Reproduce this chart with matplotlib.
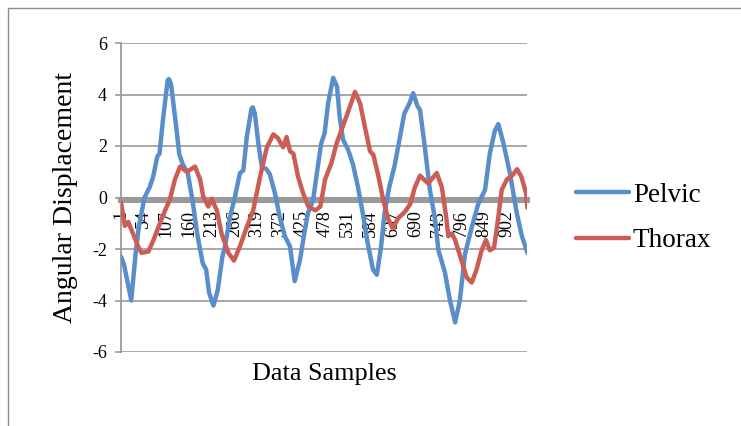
import matplotlib
matplotlib.use("Agg")
import matplotlib.pyplot as plt
from matplotlib.patches import Rectangle

# ---- data ----
pelvic_x = [1, 8, 25, 35, 43, 56, 68, 76, 86, 91, 99, 110, 113, 118, 130, 137, 145, 157, 168,
            180, 192, 200, 207, 217, 227, 238, 244, 256, 267, 279, 287, 295, 306, 309, 314, 322,
            330, 341, 349, 361, 372, 384, 396, 407, 419, 431, 438, 450, 461, 469, 477, 485, 497,
            506, 512, 520, 532, 543, 555, 566, 578, 590, 599, 609, 617, 628, 640, 652, 663, 675,
            684, 694, 700, 712, 723, 735, 743, 758, 770, 782, 793, 805, 821, 836, 852, 863, 875,
            883, 895, 910, 926, 938, 951]
pelvic_y = [-2.3, -2.6, -4.0, -2.2, -1.1, 0.0, 0.4, 0.8, 1.6, 1.7, 3.0, 4.55, 4.6, 4.4, 2.75, 1.7,
            1.3, 0.95, -0.1, -1.5, -2.55, -2.8, -3.7, -4.2, -3.6, -2.3, -1.9, -0.75, 0.0, 0.95,
            1.05, 2.35, 3.45, 3.5, 3.25, 2.1, 1.2, 1.1, 0.9, 0.15, -0.75, -1.5, -1.9, -3.25,
            -2.45, -1.25, -0.6, -0.1, 1.2, 2.1, 2.5, 3.65, 4.65, 4.3, 3.15, 2.25, 1.85, 1.3, 0.4,
            -0.6, -1.8, -2.8, -3.0, -1.9, -0.6, 0.4, 1.2, 2.25, 3.25, 3.65, 4.05, 3.55, 3.4, 1.85,
            0.3, -0.85, -2.05, -2.9, -4.0, -4.85, -4.0, -2.2, -1.15, -0.25, 0.3, 1.7, 2.6, 2.85,
            2.1, 0.95, -0.6, -1.5, -2.15]

thorax_x = [1, 10, 18, 29, 41, 49, 65, 77, 92, 104, 115, 127, 139, 155, 174, 186, 193, 205, 213,
            225, 236, 252, 265, 279, 295, 310, 326, 342, 357, 368, 380, 388, 396, 404, 415, 427,
            439, 455, 467, 478, 493, 505, 528, 548, 560, 571, 583, 591, 603, 614, 626, 636, 649,
            665, 677, 688, 700, 712, 719, 739, 751, 761, 766, 774, 782, 797, 809, 821, 832, 844,
            854, 863, 873, 883, 891, 903, 915, 927, 937, 948, 951]
thorax_y = [-0.2, -1.1, -0.95, -1.4, -1.9, -2.15, -2.1, -1.65, -1.0, -0.5, -0.1, 0.7, 1.2, 1.0,
            1.2, 0.7, 0.05, -0.35, -0.05, -0.5, -1.4, -2.15, -2.45, -1.9, -1.15, -0.5, 0.8, 1.95,
            2.45, 2.3, 1.95, 2.35, 1.8, 1.7, 0.8, 0.15, -0.35, -0.5, -0.35, 0.7, 1.35, 2.1, 3.15,
            4.1, 3.65, 2.75, 1.8, 1.65, 0.8, -0.1, -0.85, -1.2, -0.8, -0.55, -0.25, 0.4, 0.85,
            0.65, 0.55, 0.95, 0.4, -0.75, -1.5, -1.4, -1.65, -2.45, -3.1, -3.3, -2.8, -2.05,
            -1.65, -2.05, -1.95, -0.75, 0.3, 0.7, 0.85, 1.1, 0.8, 0.15, -0.4]

x_ticks = [1, 54, 107, 160, 213, 266, 319, 372, 425, 478, 531, 584, 637, 690, 743, 796, 849, 902]
y_ticks = [-6, -4, -2, 0, 2, 4, 6]

n_samples = 950

plt.rcParams['font.family'] = ['Liberation Serif', 'DejaVu Serif']

W, H = 741, 426
fig = plt.figure(figsize=(W / 100, H / 100), dpi=100)

# outer chart border (top and left visible)
fig.patches.append(Rectangle((7.5 / W, -0.1), 1.2, (H - 8) / H + 0.1,
                             transform=fig.transFigure, fill=False,
                             edgecolor='#8c8c8c', linewidth=1.0))

ax = fig.add_axes([121 / W, 1 - 352 / H, 406 / W, 309 / H])

# spine position first (it resets tick objects)
for s in ['top', 'right']:
    ax.spines[s].set_visible(False)
ax.spines['bottom'].set_position(('data', -0.11))
ax.spines['left'].set_color('#9a9a9a')
ax.spines['left'].set_linewidth(1.3)
ax.spines['bottom'].set_color('#9a9a9a')
ax.spines['bottom'].set_linewidth(4.4)
ax.spines['bottom'].set_zorder(2)

blue = '#5A8ECA'
red = '#CC5D55'
ax.plot(pelvic_x, pelvic_y, color=blue, lw=3.2, solid_joinstyle='round',
        solid_capstyle='round', label='Pelvic', zorder=3)
ax.plot(thorax_x, thorax_y, color=red, lw=3.2, solid_joinstyle='round',
        solid_capstyle='round', label='Thorax', zorder=3)

ax.set_xlim(1, n_samples)
ax.set_ylim(-6, 6)
ax.set_yticks(y_ticks)
ax.set_yticklabels([str(t) for t in y_ticks])
ax.set_xticks(x_ticks)
ax.set_xticklabels([str(t) for t in x_ticks])

ax.grid(axis='y', color='#9a9a9a', linewidth=1.2, zorder=0)
ax.set_axisbelow(True)

ax.tick_params(axis='y', direction='out', length=4, width=1.2, color='#9a9a9a',
               labelsize=13, pad=6)
ax.tick_params(axis='x', length=0, labelsize=13, pad=7, labelrotation=90)
for lab in ax.get_xticklabels():
    lab.set_va('top')
    lab.set_ha('center')

fig.text(65 / W, 1 - 197.5 / H, 'Angular Displacement', rotation=90,
         ha='center', va='center', fontsize=20)
fig.text(324 / W, 1 - 374 / H, 'Data Samples', ha='center', va='center', fontsize=18.8)

leg = fig.legend(loc='center left', bbox_to_anchor=(576 / W, 1 - 218 / H),
                 frameon=False, fontsize=19.5, handlelength=1.95, handletextpad=0.15,
                 labelspacing=0.75, borderpad=0, borderaxespad=0)
for line in leg.get_lines():
    line.set_linewidth(3.2)

fig.savefig('out.png', dpi=100)
